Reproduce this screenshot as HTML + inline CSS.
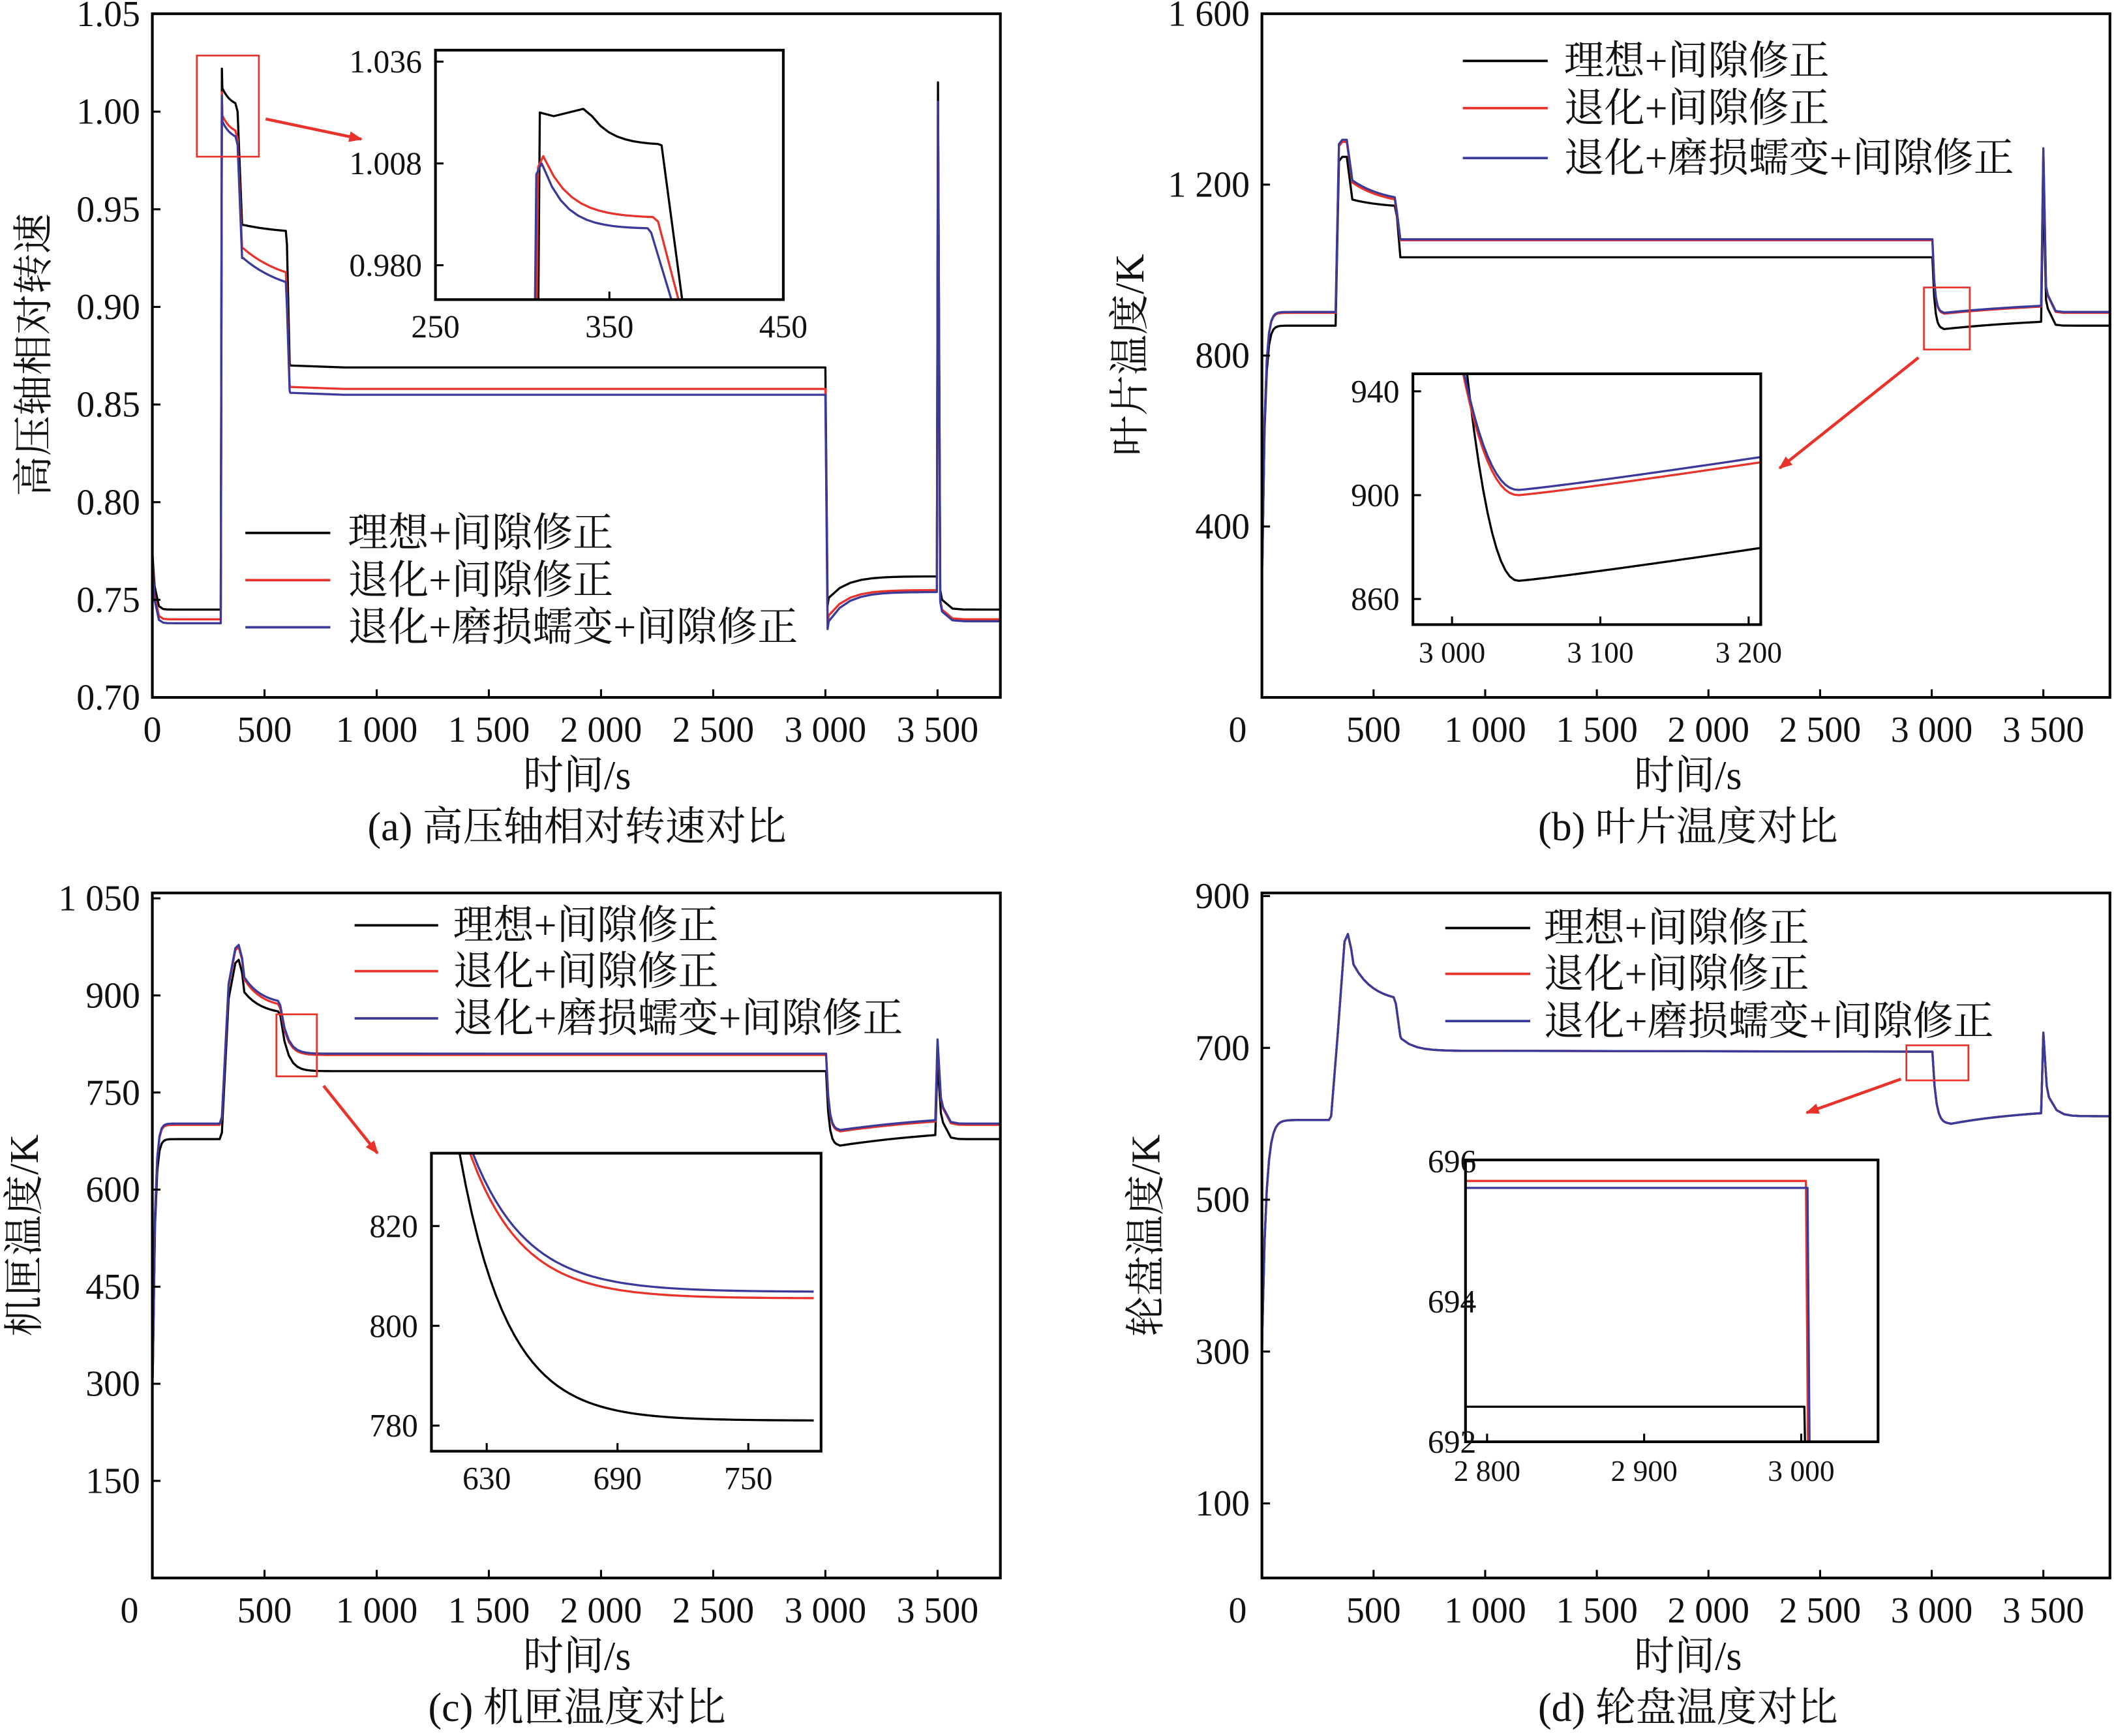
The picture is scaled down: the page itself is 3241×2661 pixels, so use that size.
<!DOCTYPE html>
<html><head><meta charset="utf-8">
<style>
html,body{margin:0;padding:0;background:#fff;}
svg{display:block;}
text{font-family:"Liberation Serif","Noto Serif CJK SC",serif;fill:#111;}
</style></head>
<body>
<svg id="s" width="3241" height="2661" viewBox="0 0 1568 1287" xmlns="http://www.w3.org/2000/svg">
<defs>
<clipPath id="ca"><rect x="113" y="10" width="629" height="507"/></clipPath>
<clipPath id="cb"><rect x="936" y="10" width="629" height="507"/></clipPath>
<clipPath id="cc"><rect x="113" y="662" width="629" height="508"/></clipPath>
<clipPath id="cd"><rect x="936" y="662" width="629" height="508"/></clipPath>
<clipPath id="cai"><rect x="323" y="37" width="258" height="185"/></clipPath>
<clipPath id="cbi"><rect x="1048" y="277" width="258" height="186"/></clipPath>
<clipPath id="cci"><rect x="320" y="855" width="289" height="221"/></clipPath>
<clipPath id="cdi"><rect x="1087" y="860" width="306" height="209"/></clipPath>
<marker id="ar" markerWidth="10" markerHeight="8" refX="9" refY="4" orient="auto" markerUnits="userSpaceOnUse"><path d="M0,0 L10,4 L0,8 z" fill="#e8322a"/></marker>
</defs>
<g id="g"></g>
</svg>
<script>
const NS="http://www.w3.org/2000/svg";const G=document.getElementById('g');
function el(n,a,txt){const e=document.createElementNS(NS,n);for(const k in a)e.setAttribute(k,a[k]);if(txt!==undefined)e.textContent=txt;G.appendChild(e);return e;}
function T(x,y,s,size,anchor,extra){const a={x:x,y:y,'font-size':size||27,'text-anchor':anchor||'middle'};Object.assign(a,extra||{});return el('text',a,s);}
function L(x1,y1,x2,y2,c,w){el('line',{x1,y1,x2,y2,stroke:c||'#000','stroke-width':w||1.5});}
function E(t0,t1,v0,vi,tau,n){n=n||20;const p=[];for(let i=0;i<=n;i++){const t=t0+(t1-t0)*i/n;p.push([t,vi+(v0-vi)*Math.exp(-(t-t0)/tau)]);}return p;}
function P(pts,fx,fy,c,clip,w){let d='';pts.forEach((p,i)=>{d+=(i?'L':'M')+fx(p[0]).toFixed(2)+','+fy(p[1]).toFixed(2);});el('path',{d:d,fill:'none',stroke:c,'stroke-width':w||1.6,'clip-path':'url(#'+clip+')','stroke-linejoin':'round'});}
function box(x,y,w,h){el('rect',{x,y,width:w,height:h,fill:'none',stroke:'#000','stroke-width':2});}
function legend(x1,x2,tx,ys){const c=['#000','#e8322a','#3a3a9a'],s=['理想+间隙修正','退化+间隙修正','退化+磨损蠕变+间隙修正'];ys.forEach((y,i)=>{L(x1,y,x2,y,c[i],1.8);T(tx,y+10,s[i],30,'start');});}
function rbox(x,y,w,h){el('rect',{x,y,width:w,height:h,fill:'none',stroke:'#e8322a','stroke-width':1.3});}
function arrow(x1,y1,x2,y2){el('line',{x1,y1,x2,y2,stroke:'#e8322a','stroke-width':2.2,'marker-end':'url(#ar)'});}
const K='#000',R='#e8322a',B='#3a3a9a';

{const fx=t=>113+t*0.1664,fy=v=>517-(v-0.70)/0.05*72.4;
function cur(b,pk,pk2,mid1,mid2,fl,lo1,lo2,sp,end){return [[0,b+0.03],[5,b+0.02],...E(10,300,b+0.012,b,10,15),[305,b],[310,pk],...E(312,370,pk2,pk2-0.01,40,6),[380,pk2-0.012],[400,mid1],...E(405,595,mid1,mid2,200,8),[600,mid2-0.005],[612,fl+0.002],...E(615,2998,fl+0.001,fl,40,10),[3000,fl],[3010,lo1-0.01],...E(3015,3495,lo1-0.006,lo2,80,10),[3497,lo2],[3502,sp],[3512,end+0.01],...E(3520,3800,end+0.005,end,20,6)];}
P(cur(0.745,1.022,1.012,0.942,0.937,0.869,0.757,0.762,1.015,0.745),fx,fy,K,'ca');
P(cur(0.740,1.010,0.998,0.930,0.910,0.858,0.748,0.755,1.005,0.740),fx,fy,R,'ca');
P(cur(0.738,1.008,0.995,0.925,0.905,0.855,0.745,0.754,1.005,0.739),fx,fy,B,'ca');
box(113,10,629,507);
[0.70,0.75,0.80,0.85,0.90,0.95,1.00,1.05].forEach(v=>{L(113,fy(v),119,fy(v));T(104,fy(v)+9,v.toFixed(2),27,'end');});
[[0,'0'],[500,'500'],[1000,'1 000'],[1500,'1 500'],[2000,'2 000'],[2500,'2 500'],[3000,'3 000'],[3500,'3 500']].forEach(([t,s])=>{L(fx(t),517,fx(t),511);T(fx(t),550,s);});
T(428,585,'时间/s',30);T(428,623,'(a) 高压轴相对转速对比',30);
T(35,263,'高压轴相对转速',30,'middle',{transform:'rotate(-90 35 263)'});
legend(182,245,258,[395,430,465]);
rbox(146,41,46,75);arrow(197,88,268,103);
const ix=t=>323+(t-250)*1.29,iy=v=>121-(v-1.008)/0.028*75.5;
el('rect',{x:323,y:37,width:258,height:185,fill:'#fff'});
P([[300,0.96],[309,0.96],[310,1.022],[318,1.021],[335,1.023],...E(340,378,1.021,1.013,12,8),[380,1.013],[392,0.97]],ix,iy,K,'cai');
P([[300,0.96],[308,0.96],[309,1.007],[312,1.010],...E(313,375,1.009,0.993,15,12),[378,0.992],[390,0.97]],ix,iy,R,'cai');
P([[300,0.96],[307,0.96],[308,1.005],[311,1.008],...E(312,372,1.007,0.990,13,12),[374,0.989],[386,0.97]],ix,iy,B,'cai');
box(323,37,258,185);
[[1.036,'1.036'],[1.008,'1.008'],[0.980,'0.980']].forEach(([v,s])=>{L(323,iy(v),329,iy(v));T(313,iy(v)+8,s,24,'end');});
[[250,'250'],[350,'350'],[450,'450']].forEach(([t,s])=>{L(ix(t),222,ix(t),216);T(ix(t),250,s,24);});
}
{const fx=t=>936+t*0.1656,fy=v=>517-v*0.3169;
function cur(f1,pk,m1,m2,fl,lo1,lo2,sp,end){return [[0,300],...E(2,300,320,f1,12,30),[330,f1],[345,pk-10],[360,pk],[380,pk],[400,m1+20],...E(405,595,m1,m2,150,8),[605,m2-20],[620,fl],[3000,fl],...E(3003,3050,fl,lo1,10,6),...E(3055,3490,lo1,lo2,600,10),[3500,sp],[3512,end+60],...E(3520,3800,end+40,end,12,8)];}
P(cur(870,1265,1165,1145,1030,862,895,1200,870),fx,fy,K,'cb');
P(cur(900,1300,1205,1150,1070,898,930,1280,900),fx,fy,R,'cb');
P(cur(902,1305,1210,1155,1072,900,932,1285,902),fx,fy,B,'cb');
box(936,10,629,507);
[[0,'0'],[400,'400'],[800,'800'],[1200,'1 200'],[1600,'1 600']].forEach(([v,s])=>{L(936,fy(v),942,fy(v));if(v>0)T(927,fy(v)+9,s,27,'end');});
T(918,550,'0');
[[500,'500'],[1000,'1 000'],[1500,'1 500'],[2000,'2 000'],[2500,'2 500'],[3000,'3 000'],[3500,'3 500']].forEach(([t,s])=>{L(fx(t),517,fx(t),511);T(fx(t),550,s);});
T(1252,585,'时间/s',30);T(1252,623,'(b) 叶片温度对比',30);
T(848,263,'叶片温度/K',30,'middle',{transform:'rotate(-90 848 263)'});
legend(1085,1148,1160,[45,80,117]);
rbox(1427,213,34,46);arrow(1423,265,1320,347);
const ix=t=>1077+(t-3000)*1.1,iy=v=>367-(v-900)/40*77;
el('rect',{x:1048,y:277,width:258,height:186,fill:'#fff'});
function ic(mn,e){const p=[];for(let t=3003;t<=3212;t+=3){const a=(t<3045)?mn+Math.pow((3045-t)/42,2.2)*(mn<880?120:60):mn+(e-mn)*Math.pow((t-3045)/167,1.1);p.push([t,a]);}return p;}
P(ic(867,880),ix,iy,K,'cbi');P(ic(900,913),ix,iy,R,'cbi');P(ic(902,915),ix,iy,B,'cbi');
box(1048,277,258,186);
[940,900,860].forEach(v=>{L(1048,iy(v),1054,iy(v));T(1038,iy(v)+8,String(v),24,'end');});
[[3000,'3 000'],[3100,'3 100'],[3200,'3 200']].forEach(([t,s])=>{L(ix(t),463,ix(t),457);T(ix(t),491,s,22);});
}
{const fx=t=>113+t*0.1664,fy=v=>1170-v*0.48;
function cur(f1,pk,m1,fl,lo1,lo2,sp,end){return [[0,300],...E(2,300,320,f1,10,30),[310,f1+10],[340,pk-60],[370,pk-5],[385,pk],[400,pk-20],...E(410,560,pk-50,m1,80,8),...E(570,800,m1,fl,30,12),[3000,fl],...E(3003,3060,fl,lo1,12,6),...E(3065,3490,lo1,lo2,600,8),[3500,sp],[3515,end+40],...E(3525,3800,end+25,end,15,8)];}
P(cur(678,955,870,783,668,700,800,678),fx,fy,K,'cc');
P(cur(700,975,880,808,690,720,830,700),fx,fy,R,'cc');
P(cur(702,978,885,810,692,722,832,702),fx,fy,B,'cc');
box(113,662,629,508);
[1050,900,750,600,450,300,150].forEach(v=>{L(113,fy(v),119,fy(v));T(104,fy(v)+9,v==1050?'1 050':String(v),27,'end');});
T(96,1203,'0');
[[500,'500'],[1000,'1 000'],[1500,'1 500'],[2000,'2 000'],[2500,'2 500'],[3000,'3 000'],[3500,'3 500']].forEach(([t,s])=>{L(fx(t),1170,fx(t),1164);T(fx(t),1203,s);});
T(428,1238,'时间/s',30);T(428,1276,'(c) 机匣温度对比',30);
T(28,916,'机匣温度/K',30,'middle',{transform:'rotate(-90 28 916)'});
legend(263,325,336,[686,720,755]);
rbox(205,752,30,46);arrow(240,805,280,855);
const ix=t=>361+(t-630)*1.617,iy=v=>983-(v-800)/20*74;
el('rect',{x:320,y:855,width:289,height:221,fill:'#fff'});
P(E(612,780,850,781,22,60),ix,iy,K,'cci');
P(E(615,780,845,805.5,24,60),ix,iy,R,'cci');
P(E(615,780,846,806.8,25,60),ix,iy,B,'cci');
box(320,855,289,221);
[820,800,780].forEach(v=>{L(320,iy(v),326,iy(v));T(310,iy(v)+8,String(v),24,'end');});
[630,690,750].forEach(t=>{L(ix(t),1076,ix(t),1070);T(ix(t),1104,String(t),24);});
}
{const fx=t=>936+t*0.1656,fy=v=>1171-v*0.563;
function cur(d){return [[0,300+d],...E(2,300,330,605,18,30),[310,610],[340,720],[370,840],[385,850],[400,830],...E(410,590,810,760,90,8),[600,758],[620,715],...E(625,900,712,696,60,8),[3000,695],...E(3003,3080,695,600,15,8),...E(3085,3490,600,622,400,8),[3500,720],[3515,650],...E(3525,3800,635,610,30,8)];}
P(cur(0),fx,fy,K,'cd');P(cur(0),fx,fy,R,'cd');P(cur(0),fx,fy,B,'cd');
box(936,662,629,508);
[900,700,500,300,100].forEach(v=>{L(936,fy(v),942,fy(v));T(927,fy(v)+9,String(v),27,'end');});
T(918,1203,'0');
[[500,'500'],[1000,'1 000'],[1500,'1 500'],[2000,'2 000'],[2500,'2 500'],[3000,'3 000'],[3500,'3 500']].forEach(([t,s])=>{L(fx(t),1170,fx(t),1164);T(fx(t),1203,s);});
T(1252,1238,'时间/s',30);T(1252,1276,'(d) 轮盘温度对比',30);
T(860,916,'轮盘温度/K',30,'middle',{transform:'rotate(-90 860 916)'});
legend(1072,1135,1145,[688,722,757]);
rbox(1414,775,46,26);arrow(1410,800,1340,825);
const ix=t=>1103+(t-2800)*1.165,iy=v=>965-(v-694)*52;
el('rect',{x:1087,y:860,width:306,height:209,fill:'#fff'});
P([[2780,692.5],[3002,692.5],[3004,690]],ix,iy,K,'cdi');
P([[2780,695.72],[3003,695.72],[3005,690]],ix,iy,R,'cdi');
P([[2780,695.62],[3004,695.62],[3006,690]],ix,iy,B,'cdi');
box(1087,860,306,209);
[696,694,692].forEach(v=>{L(1087,iy(v),1093,iy(v));T(1095,iy(v)+8,String(v),24,'end');});
[[2800,'2 800'],[2900,'2 900'],[3000,'3 000']].forEach(([t,s])=>{L(ix(t),1069,ix(t),1063);T(ix(t),1098,s,22);});
}
</script>
</body></html>
